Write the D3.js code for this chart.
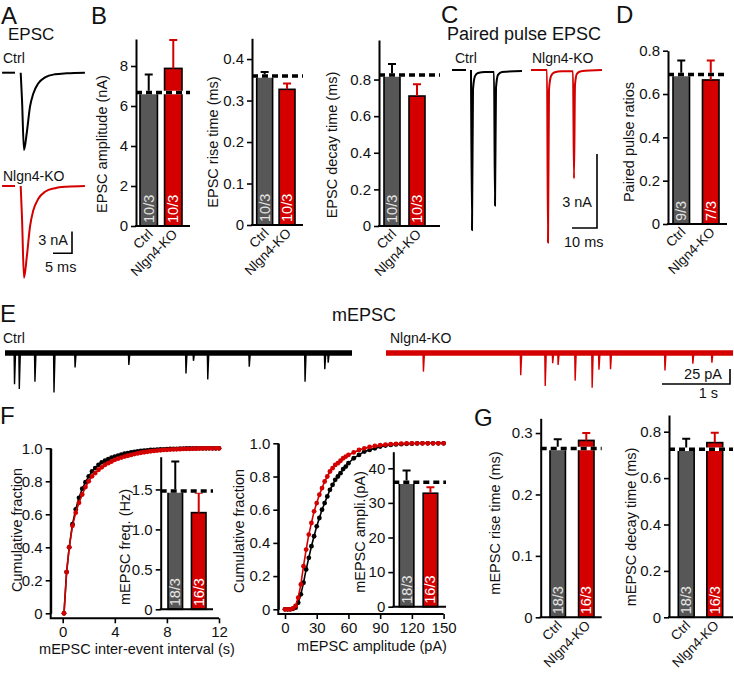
<!DOCTYPE html>
<html lang="en">
<meta charset="UTF-8">
<title>EPSC and mEPSC in Nlgn4-KO</title>
<script src="https://d3js.org/d3.v7.min.js"></script>
<style>
  body { margin: 0; background: #fff; }
  svg text { font-family: "Liberation Sans", Arial, Helvetica, sans-serif; fill: #111; }
</style>
<body>
<div id="fig"></div>
<script>
// ---------- data ----------
var groups = ["Ctrl", "Nlgn4-KO"];
var barFill = ["#575757", "#d40000"];
var lineCol = ["#000000", "#d40000"];

// A: evoked EPSC example traces (ms after onset, nA)
var epscT    = [0, 0.35, 0.87, 1.6, 2.45, 3.3, 4.6, 6.4, 9.0, 12.1, 16.9];
var epscCtrl = [0, -3.8, -10.7, -8.3, -4.7, -2.9, -1.5, -0.65, -0.22, -0.08, 0];
var epscKO   = [0, -4.5, -12.7, -9.8, -5.6, -3.4, -1.8, -0.8, -0.3, -0.1, 0];
var epscStubT = [-4.9, -1.5];

// B: EPSC summary
var epscAmp = [6.68, 7.88], epscAmpSem = [0.9, 1.42];
var epscRise = [0.359, 0.327], epscRiseSem = [0.010, 0.014];
var epscDecay = [0.825, 0.71], epscDecaySem = [0.06, 0.064];
var epscN = ["10/3", "10/3"];

// C: paired pulse traces
var ppCtrlT = [0, 0.4, 0.8, 1.6, 2.8, 5.6, 9.2, 9.6, 10.0, 10.8, 12.4, 20.4];
var ppCtrl  = [0, -6.5, -0.8, -0.25, -0.12, -0.08, -0.08, -5.5, -0.73, -0.2, -0.08, -0.04];
var ppCtrlStubT = [-7.6, -2.0];
var ppKOT = [-6.4, 0, 0.4, 0.8, 1.6, 2.8, 6.0, 10.4, 10.8, 11.2, 12.0, 13.6, 22.0];
var ppKO  = [0, 0, -7.0, -0.8, -0.25, -0.1, -0.05, -0.05, -4.4, -0.6, -0.15, -0.05, 0];

// D: paired pulse ratio
var ppr = [0.69, 0.665], pprSem = [0.065, 0.09];
var pprN = ["9/3", "7/3"];

// E: mEPSC sweeps (event time s, amplitude pA)
var sweepLength = 5.1;
var ctrlEventT = [0.14, 0.21, 0.44, 0.72, 1.03, 1.82, 2.66, 2.77, 2.98, 3.59, 4.41, 4.70, 4.75];
var ctrlEventA = [52, 60, 48, 66, 24, 20, 34, 13, 44, 23, 48, 27, 16];
var koEventT = [0.55, 1.98, 2.34, 2.45, 2.53, 2.78, 3.03, 3.13, 3.30, 4.10, 4.51, 4.79];
var koEventA = [31, 37, 55, 17, 20, 46, 58, 28, 27, 29, 18, 16];

// F: cumulative distributions
var iei = [0.1, 0.3, 0.5, 0.75, 1.0, 1.25, 1.5, 1.75, 2.0, 2.25, 2.5, 2.75, 3.0, 3.25, 3.5, 3.75,
  4.0, 4.25, 4.5, 4.75, 5.0, 5.25, 5.5, 5.75, 6.0, 6.25, 6.5, 6.75, 7.0, 7.25, 7.5, 7.75,
  8.0, 8.25, 8.5, 8.75, 9.0, 9.25, 9.5, 9.75, 10.0, 10.25, 10.5, 10.75, 11.0, 11.25, 11.5, 11.75, 12.0];
var ieiCtrl = [0, 0.25, 0.40, 0.54, 0.63, 0.70, 0.755, 0.795, 0.83, 0.86, 0.88, 0.90, 0.915, 0.925, 0.935, 0.943,
  0.95, 0.956, 0.962, 0.967, 0.971, 0.975, 0.978, 0.981, 0.984, 0.986, 0.988, 0.99, 0.991, 0.992, 0.993, 0.994,
  0.995, 0.996, 0.997, 0.997, 0.998, 0.998, 0.999, 0.999, 0.999, 1, 1, 1, 1, 1, 1, 1, 1];
var ieiKO = [0, 0.25, 0.40, 0.53, 0.61, 0.67, 0.72, 0.765, 0.80, 0.83, 0.85, 0.87, 0.885, 0.90, 0.91, 0.92,
  0.93, 0.937, 0.944, 0.95, 0.955, 0.96, 0.965, 0.969, 0.973, 0.976, 0.979, 0.982, 0.984, 0.986, 0.988, 0.99,
  0.991, 0.992, 0.993, 0.994, 0.995, 0.996, 0.997, 0.997, 0.998, 0.998, 0.999, 0.999, 1, 1, 1, 1, 1];

var amp = [0, 2.5, 5, 7.5, 10, 12.5, 15, 17.5, 20, 22.5, 25, 27.5, 30, 32.5, 35, 37.5, 40, 42.5, 45, 47.5,
  50, 52.5, 55, 57.5, 60, 65, 70, 75, 80, 85, 90, 95, 100, 105, 110, 115, 120, 125, 130, 135, 140, 145, 150];
var ampCtrl = [0, 0, 0, 0.003, 0.01, 0.04, 0.09, 0.16, 0.24, 0.31, 0.38, 0.44, 0.50, 0.55, 0.60, 0.64, 0.68, 0.72, 0.75, 0.78,
  0.80, 0.82, 0.845, 0.86, 0.88, 0.91, 0.93, 0.95, 0.96, 0.97, 0.98, 0.986, 0.99, 0.993, 0.995, 0.997, 0.998, 0.999, 1, 1, 1, 1, 1];
var ampKO = [0, 0, 0, 0.005, 0.02, 0.07, 0.15, 0.26, 0.36, 0.45, 0.52, 0.59, 0.64, 0.69, 0.73, 0.77, 0.80, 0.83, 0.85, 0.87,
  0.88, 0.895, 0.91, 0.92, 0.93, 0.945, 0.96, 0.97, 0.978, 0.984, 0.989, 0.992, 0.995, 0.997, 0.998, 0.999, 1, 1, 1, 1, 1, 1, 1];

var mFreq = [1.48, 1.21], mFreqSem = [0.37, 0.25];
var mAmp = [36.0, 32.8], mAmpSem = [3.4, 1.7];
var mN = ["18/3", "16/3"];

// G: mEPSC kinetics
var mRise = [0.275, 0.288], mRiseSem = [0.015, 0.012];
var mDecay = [0.724, 0.753], mDecaySem = [0.046, 0.042];

// ---------- drawing ----------
var tickSize = 15, titleSize = 14.5;

var svg = d3.select("#fig").append("svg")
    .attr("width", 734)
    .attr("height", 673);

function label(x, y, s, size, anchor) {
  return svg.append("text")
    .attr("x", x).attr("y", y)
    .attr("font-size", size)
    .attr("text-anchor", anchor || "start")
    .text(s);
}

function vlabel(x, y, s) {
  svg.append("text")
    .attr("transform", "translate(" + x + "," + y + ") rotate(-90)")
    .attr("text-anchor", "middle")
    .attr("dominant-baseline", "central")
    .attr("font-size", titleSize)
    .text(s);
}

function styleAxis(g) {
  g.attr("font-family", null).attr("font-size", tickSize);
  g.selectAll("path.domain").attr("stroke-width", 2);
  g.selectAll(".tick line").attr("stroke-width", 1.6);
  g.selectAll(".tick text").attr("fill", "#111");
}

var fmt1 = function(v) { return v === 0 ? "0" : d3.format(".1f")(v); };
var fmt0 = d3.format("d");

// panel letters and titles
label(1, 24, "A", 24);
label(91, 24, "B", 24);
label(441, 23, "C", 24);
label(616, 23, "D", 24);
label(0, 322, "E", 24);
label(0, 424, "F", 24);
label(474, 426, "G", 24);

label(8, 40, "EPSC", 17);
label(447, 40, "Paired pulse EPSC", 18);
label(364, 321, "mEPSC", 18, "middle");

// ---------- A: EPSC traces ----------
var xA = d3.scaleLinear().domain([0, 5]).range([20.7, 39.7]);
var yACtrl = d3.scaleLinear().domain([0, -3]).range([72.7, 94.4]);
var yAKO = d3.scaleLinear().domain([0, -3]).range([186, 207.7]);

function trace(xs, ys, xSc, ySc, col, width) {
  var line = d3.line()
    .x(function(d) { return xSc(d[0]); })
    .y(function(d) { return ySc(d[1]); })
    .curve(d3.curveMonotoneX);
  svg.append("path")
    .datum(d3.zip(xs, ys))
    .attr("d", line)
    .attr("fill", "none")
    .attr("stroke", col)
    .attr("stroke-width", width || 2)
    .attr("stroke-linejoin", "round");
}

label(3, 63, "Ctrl", 14);
trace(epscStubT, [0, 0], xA, yACtrl, lineCol[0]);
trace(epscT, epscCtrl, xA, yACtrl, lineCol[0]);
label(3, 181, "Nlgn4-KO", 14);
trace(epscStubT, [0, 0], xA, yAKO, lineCol[1]);
trace(epscT, epscKO, xA, yAKO, lineCol[1]);

function scaleBar(cx, cy, w, h) {
  svg.append("path")
    .attr("d", "M" + (cx - w) + "," + cy + "H" + cx + "V" + (cy - h))
    .attr("fill", "none").attr("stroke", "#000").attr("stroke-width", 1.6);
}
scaleBar(72, 253.3, xA(5) - xA(0), yACtrl(-3) - yACtrl(0));
label(68, 245, "3 nA", 14.5, "end");
label(45, 272, "5 ms", 14.5);

// ---------- bar charts ----------
function barPanel(p) {
  var y = d3.scaleLinear().domain([0, p.max]).range([p.y0, p.yTop]);
  var x = d3.scaleBand().domain(groups).range(p.band).paddingInner(p.pad);
  var g = svg.append("g");

  g.selectAll("rect").data(p.values).join("rect")
    .attr("x", function(d, i) { return x(groups[i]); })
    .attr("y", function(d) { return y(d); })
    .attr("width", x.bandwidth())
    .attr("height", function(d) { return p.y0 - y(d); })
    .attr("fill", function(d, i) { return barFill[i]; })
    .attr("stroke", "#000")
    .attr("stroke-width", 1.6);

  // error bars
  p.values.forEach(function(v, i) {
    var cx = x(groups[i]) + x.bandwidth() / 2;
    var top = y(v + p.sem[i]);
    g.append("path")
      .attr("d", "M" + cx + "," + y(v) + "V" + top + "M" + (cx - 4) + "," + top + "H" + (cx + 4))
      .attr("stroke", lineCol[i]).attr("stroke-width", 2).attr("fill", "none");
  });

  // n labels inside bars
  g.selectAll("text.n").data(p.n).join("text")
    .attr("class", "n")
    .attr("transform", function(d, i) {
      return "translate(" + (x(groups[i]) + x.bandwidth() / 2) + "," + (p.y0 - 3) + ") rotate(-90)";
    })
    .attr("dominant-baseline", "central")
    .attr("font-size", 14.5)
    .style("fill", function(d, i) { return i === 0 ? "#e4e4e4" : "#fff"; })
    .text(function(d) { return d; });

  // dashed control-mean line
  var yd = y(p.values[0]);
  g.append("line").attr("x1", p.x0).attr("x2", p.x1).attr("y1", yd).attr("y2", yd)
    .attr("stroke", "#fff").attr("stroke-width", 3.5);
  g.append("line").attr("x1", p.x0).attr("x2", p.x1).attr("y1", yd).attr("y2", yd)
    .attr("stroke", "#000").attr("stroke-width", 3.5).attr("stroke-dasharray", "6,4");

  // axes
  var ax = g.append("g")
    .attr("transform", "translate(" + p.x0 + ",0)")
    .call(d3.axisLeft(y).tickValues(p.ticks).tickFormat(p.fmt).tickSize(5).tickSizeOuter(0).tickPadding(3));
  styleAxis(ax);
  g.append("line").attr("x1", p.x0 - 1).attr("x2", p.x1).attr("y1", p.y0).attr("y2", p.y0)
    .attr("stroke", "#000").attr("stroke-width", 2);

  if (p.xlabels) {
    g.selectAll("text.xl").data(groups).join("text")
      .attr("class", "xl")
      .attr("transform", function(d) {
        return "translate(" + (x(d) + x.bandwidth() / 2 + 5) + "," + (p.y0 + 9) + ") rotate(-45)";
      })
      .attr("text-anchor", "end")
      .attr("font-size", 13.5)
      .text(function(d) { return d; });
  }
  vlabel(p.lx, p.ly, p.title);
}

barPanel({ values: epscAmp, sem: epscAmpSem, n: epscN, max: 9.35, ticks: [0, 2, 4, 6, 8], fmt: fmt0,
  x0: 136, x1: 190, y0: 226, yTop: 39, band: [140, 182], pad: 0.29, xlabels: true,
  title: "EPSC amplitude (nA)", lx: 101.5, ly: 144 });
barPanel({ values: epscRise, sem: epscRiseSem, n: epscN, max: 0.45, ticks: [0, 0.1, 0.2, 0.3, 0.4], fmt: fmt1,
  x0: 252, x1: 303, y0: 225, yTop: 38.3, band: [256.7, 295], pad: 0.29, xlabels: true,
  title: "EPSC rise time (ms)", lx: 213, ly: 142 });
barPanel({ values: epscDecay, sem: epscDecaySem, n: epscN, max: 1.016, ticks: [0, 0.2, 0.4, 0.6, 0.8], fmt: fmt1,
  x0: 379, x1: 440, y0: 226, yTop: 40, band: [384, 425], pad: 0.36, xlabels: true,
  title: "EPSC decay time (ms)", lx: 332, ly: 145 });
barPanel({ values: ppr, sem: pprSem, n: pprN, max: 0.8, ticks: [0, 0.2, 0.4, 0.6, 0.8], fmt: fmt1,
  x0: 668, x1: 727, y0: 224, yTop: 50.7, band: [673, 719], pad: 0.44, xlabels: true,
  title: "Paired pulse ratios", lx: 629, ly: 142 });

// ---------- C: paired pulse traces ----------
var xCCtrl = d3.scaleLinear().domain([0, 10]).range([471, 496]);
var xCKO = d3.scaleLinear().domain([0, 10]).range([547, 572]);
var yC = d3.scaleLinear().domain([0, -3]).range([70, 144]);
label(455, 63, "Ctrl", 14);
label(532, 63, "Nlgn4-KO", 14);
trace(ppCtrlStubT, [0, 0], xCCtrl, yC, lineCol[0]);
trace(ppCtrlT, ppCtrl, xCCtrl, yC, lineCol[0]);
trace(ppKOT, ppKO, xCKO, yC, lineCol[1]);
scaleBar(597, 228, xCCtrl(10) - xCCtrl(0), yC(-3) - yC(0));
label(592, 207, "3 nA", 14.5, "end");
label(564, 247, "10 ms", 14.5);

// ---------- E: mEPSC sweeps ----------
var xECtrl = d3.scaleLinear().domain([0, sweepLength]).range([5, 352]);
var xEKO = d3.scaleLinear().domain([0, sweepLength]).range([386, 733]);
var yE = d3.scaleLinear().domain([0, -25]).range([353, 368]);

function sweep(xSc, times, amps, col) {
  svg.append("line")
    .attr("x1", xSc(0)).attr("x2", xSc(sweepLength)).attr("y1", yE(0)).attr("y2", yE(0))
    .attr("stroke", col).attr("stroke-width", 5.5);
  var line = d3.line()
    .x(function(d) { return xSc(d[0]); })
    .y(function(d) { return yE(d[1]); });
  svg.append("g").selectAll("path").data(d3.zip(times, amps)).join("path")
    .attr("d", function(d) { return line([[d[0] - 0.006, 0], [d[0], -d[1]], [d[0] + 0.015, 0]]); })
    .attr("fill", "none").attr("stroke", col).attr("stroke-width", 1.4);
}
label(3, 343, "Ctrl", 14);
sweep(xECtrl, ctrlEventT, ctrlEventA, lineCol[0]);
label(390, 343, "Nlgn4-KO", 14);
sweep(xEKO, koEventT, koEventA, lineCol[1]);
scaleBar(730, 384, xEKO(1) - xEKO(0), yE(-25) - yE(0));
label(722, 379, "25 pA", 14.5, "end");
label(718, 398, "1 s", 14.5, "end");

// ---------- F: cumulative plots ----------
function cdfPanel(p) {
  var x = d3.scaleLinear().domain(p.xDomain).range(p.xRange);
  var y = d3.scaleLinear().domain([0, 1]).range(p.yRange);
  var g = svg.append("g");

  var ya = g.append("g").attr("transform", "translate(" + p.ax + ",0)")
    .call(d3.axisLeft(y).tickValues([0, 0.2, 0.4, 0.6, 0.8, 1]).tickFormat(fmt1).tickSize(5).tickSizeOuter(0).tickPadding(3));
  styleAxis(ya);
  var xa = g.append("g").attr("transform", "translate(0," + p.ay + ")")
    .call(d3.axisBottom(x).tickValues(p.xticks).tickFormat(fmt0).tickSize(5).tickSizeOuter(0).tickPadding(3));
  styleAxis(xa);
  xa.select("path.domain").remove();
  g.append("path")
    .attr("d", "M" + p.ax + "," + y(1) + "V" + p.ay + "H" + x(p.xDomain[1]))
    .attr("fill", "none").attr("stroke", "#000").attr("stroke-width", 2);

  [p.ctrl, p.ko].forEach(function(vals, i) {
    var pts = d3.zip(p.xs, vals);
    g.append("path").datum(pts)
      .attr("d", d3.line().x(function(d) { return x(d[0]); }).y(function(d) { return y(d[1]); }))
      .attr("fill", "none").attr("stroke", lineCol[i]).attr("stroke-width", 1.6);
    g.append("g").selectAll("circle").data(pts).join("circle")
      .attr("cx", function(d) { return x(d[0]); })
      .attr("cy", function(d) { return y(d[1]); })
      .attr("r", 2.4)
      .attr("fill", lineCol[i]);
  });

  vlabel(p.lx, p.ly, "Cumulative fraction");
  label(p.tx, p.ty, p.title, titleSize, "middle");
}

cdfPanel({ xs: iei, ctrl: ieiCtrl, ko: ieiKO, xDomain: [0, 12], xRange: [62.7, 219], xticks: [0, 4, 8, 12],
  yRange: [613.3, 448.3], ax: 50.7, ay: 618.3, lx: 16.5, ly: 530,
  title: "mEPSC inter-event interval (s)", tx: 137, ty: 654 });
cdfPanel({ xs: amp, ctrl: ampCtrl, ko: ampKO, xDomain: [0, 150], xRange: [285, 443.6], xticks: [0, 30, 60, 90, 120, 150],
  yRange: [609.3, 443.3], ax: 278.3, ay: 614, lx: 238.5, ly: 531,
  title: "mEPSC amplitude (pA)", tx: 372, ty: 651 });

// insets
barPanel({ values: mFreq, sem: mFreqSem, n: mN, max: 1.91, ticks: [0, 0.5, 1.0, 1.5], fmt: fmt1,
  x0: 160.7, x1: 213, y0: 609.3, yTop: 456.7, band: [168, 206], pad: 0.38, xlabels: false,
  title: "mEPSC freq. (Hz)", lx: 125, ly: 547 });
barPanel({ values: mAmp, sem: mAmpSem, n: mN, max: 44.8, ticks: [0, 10, 20, 30, 40], fmt: fmt0,
  x0: 393.3, x1: 446, y0: 606.7, yTop: 451.7, band: [399.3, 437.7], pad: 0.39, xlabels: false,
  title: "mEPSC ampli.(pA)", lx: 359.5, ly: 532 });

// ---------- G: mEPSC kinetics ----------
barPanel({ values: mRise, sem: mRiseSem, n: mN, max: 0.324, ticks: [0, 0.1, 0.2, 0.3], fmt: fmt1,
  x0: 540.7, x1: 601.7, y0: 617.3, yTop: 418.3, band: [550, 594], pad: 0.46, xlabels: true,
  title: "mEPSC rise time (ms)", lx: 495, ly: 523 });
barPanel({ values: mDecay, sem: mDecaySem, n: mN, max: 0.872, ticks: [0, 0.2, 0.4, 0.6, 0.8], fmt: fmt1,
  x0: 669, x1: 733, y0: 617.3, yTop: 415, band: [678.3, 722.7], pad: 0.445, xlabels: true,
  title: "mEPSC decay time (ms)", lx: 631, ly: 527 });
</script>
</body>
</html>
